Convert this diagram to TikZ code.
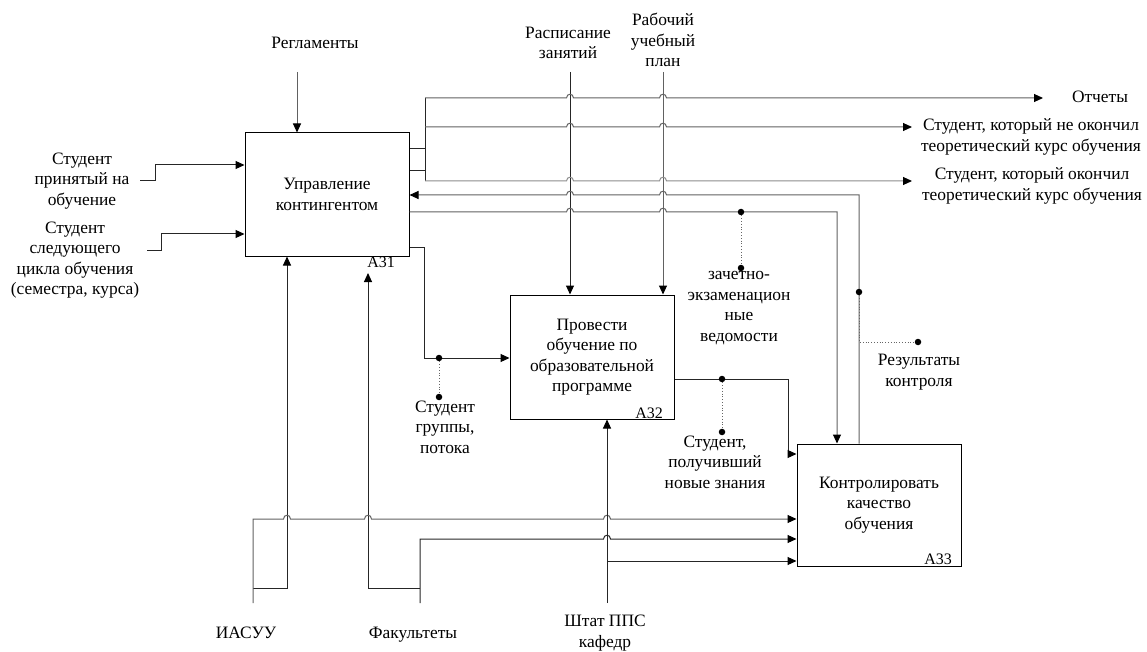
\documentclass[tikz,border=0pt]{standalone}
\usepackage{fontspec}
\setmainfont{Liberation Serif}
\usetikzlibrary{arrows.meta, positioning, calc}

% small hop of a horizontal line over a vertical one (right / left)
\newcommand{\hopR}[2]{-- ([xshift=-3.5pt]#1 |- #2) .. controls +(0,-5) and +(0,-5) .. ([xshift=3.5pt]#1 |- #2)}
\newcommand{\hopL}[2]{-- ([xshift=3.5pt]#1 |- #2) .. controls +(0,-5) and +(0,-5) .. ([xshift=-3.5pt]#1 |- #2)}

\begin{document}
\begin{tikzpicture}[
      x=1pt, y=-1pt,
      font=\fontsize{17.4}{20.5}\selectfont,
      box/.style={draw, line width=1pt, minimum width=164pt, minimum height=123pt, inner sep=0pt, align=center},
      boxid/.style={anchor=base east, inner sep=0pt, font=\fontsize{16}{19}\selectfont},
      flow/.style={line width=1pt, draw=black!85},
      dim/.style={draw=black!62},
      arrow/.style={flow, -{Triangle[length=9pt, width=8pt, color=black]}},
      dot/.style={circle, fill=black, inner sep=0pt, minimum size=6.5pt},
      tunnel/.style={dotted, line width=0.8pt, draw=black!60},
      lbl/.style={align=center, inner sep=0pt}
    ]
      \useasboundingbox (0,0) rectangle (1147,652);

      % Activity boxes
      \node[box] (a31) at (327,194.5) {Управление\\контингентом};
      \node[box, minimum height=124pt] (a32) at (592,357) {Провести\\обучение по\\образовательной\\программе};
      \node[box, minimum height=122pt] (a33) at (879,505) {Контролировать\\качество\\обучения};
      \node[boxid] at (395,267) {А31};
      \node[boxid] at (663,418) {А32};
      \node[boxid] at (952,564) {А33};

      % Controls from the top
      \node[lbl] (regl) at (315,43) {Регламенты};
      \node[lbl] (sched_lbl) at (568,43) {Расписание\\занятий};
      \node[lbl] (plan_lbl) at (663,40) {Рабочий\\учебный\\план};
      \coordinate (regl_top) at (297,72);
      \coordinate (sched) at (570,72);
      \coordinate (plan) at (663,72);
      \draw[arrow, dim] (regl_top) -- (regl_top |- a31.north);
      \draw[arrow] (sched) -- (sched |- a32.north);
      \draw[arrow, dim] (plan) -- (plan |- a32.north);

      % Inputs from the left
      \node[lbl] (stud_in1) at (82,181) {Студент\\принятый на\\обучение};
      \node[lbl] (stud_in2) at (75,260) {Студент\\следующего\\цикла обучения\\(семестра, курса)};
      \coordinate (in1) at (140,181);
      \coordinate (in2) at (147,250);
      \draw[arrow] (in1) -- ++(15,0) |- (a31.west |- 0,165);
      \draw[arrow] (in2) -- ++(14,0) |- (a31.west |- 0,234);

      % Outputs of A31 to the right
      \coordinate (bus) at (425,98);
      \draw[flow] (a31.east |- 0,149) -- (bus |- 0,149);
      \draw[flow] (a31.east |- 0,171) -- (bus |- 0,171);
      \draw[flow] (bus) -- (bus |- 0,181);
      \coordinate (reports) at (1043,98);
      \coordinate (out_not) at (912,127);
      \coordinate (out_done) at (912,181);
      \draw[arrow, dim] (bus) \hopR{sched}{bus} \hopR{plan}{bus} -- (reports);
      \draw[arrow, dim] (bus |- out_not) \hopR{sched}{out_not} \hopR{plan}{out_not} -- (out_not);
      \draw[arrow, draw=black!45] (bus |- out_done) \hopR{sched}{out_done} \hopR{plan}{out_done} -- (out_done);
      \node[lbl] (reports_lbl) at (1100,97) {Отчеты};
      \node[lbl] (not_lbl) at (1031,137) {Студент, который не окончил\\теоретический курс обучения};
      \node[lbl] (done_lbl) at (1032,186) {Студент, который окончил\\теоретический курс обучения};

      % Feedback: results of control back to A31
      \coordinate (fb) at (859,195);
      \draw[arrow, dim] (a33.north -| fb) -- (fb) \hopL{plan}{fb} \hopL{sched}{fb} -- (a31.east |- fb);
      \node[dot] (res_dot) at (fb |- 0,292) {};
      \node[dot] (res_end) at (918,342) {};
      \draw[tunnel] (res_dot) |- (res_end);
      \node[lbl] (res_lbl) at (919,372) {Результаты\\контроля};

      % Exam records from A31 to A33
      \coordinate (exam) at (837,212);
      \draw[arrow, dim] (a31.east |- exam) \hopR{sched}{exam} \hopR{plan}{exam} -- (exam) -- (exam |- a33.north);
      \node[dot] (exam_dot) at (741,212) {};
      \node[dot] (exam_end) at (741,268) {};
      \draw[tunnel] (exam_dot) -- (exam_end);
      \node[lbl] (exam_lbl) at (739,308) {зачетно-\\экзаменацион\\ные\\ведомости};

      % Student group from A31 to A32
      \coordinate (grp) at (424,247);
      \draw[arrow] (a31.east |- grp) -- (grp) |- (a32.west |- 0,358);
      \node[dot] (grp_dot) at (439,358) {};
      \node[dot] (grp_end) at (439,397) {};
      \draw[tunnel] (grp_dot) -- (grp_end);
      \node[lbl] (grp_lbl) at (445,427) {Студент\\группы,\\потока};

      % Output of A32 to A33
      \coordinate (know) at (788,379);
      \draw[arrow] (a32.east |- know) -- (know) |- (a33.west |- 0,454);
      \node[dot] (know_dot) at (722,379) {};
      \node[dot] (know_end) at (722,432) {};
      \draw[tunnel] (know_dot) -- (know_end);
      \node[lbl] (know_lbl) at (715,462) {Студент,\\получивший\\новые знания};

      % Mechanisms from the bottom
      \coordinate (iasuu) at (253,603);
      \coordinate (fac) at (420,603);
      \coordinate (staff) at (607,603);
      \coordinate (m_iasuu) at (287,588);
      \coordinate (m_fac) at (368,588);
      \draw[arrow] (iasuu |- m_iasuu) -- (m_iasuu) -- (m_iasuu |- a31.south);
      \draw[arrow] (fac |- m_fac) -- (m_fac) -- (m_fac |- 0,273);
      \draw[arrow, dim] (iasuu) -- (iasuu |- 0,519) \hopR{m_iasuu}{0,519} \hopR{m_fac}{0,519} \hopR{staff}{0,519} -- (a33.west |- 0,519);
      \draw[arrow] (fac) -- (fac |- 0,539) \hopR{staff}{0,539} -- (a33.west |- 0,539);
      \draw[arrow] (staff) -- (staff |- a32.south);
      \draw[arrow] (staff |- 0,561) -- (a33.west |- 0,561);
      \node[lbl] (iasuu_lbl) at (246,633) {ИАСУУ};
      \node[lbl] (fac_lbl) at (413,635) {Факультеты};
      \node[lbl] (staff_lbl) at (605,633) {Штат ППС\\кафедр};
    \end{tikzpicture}
\end{document}
